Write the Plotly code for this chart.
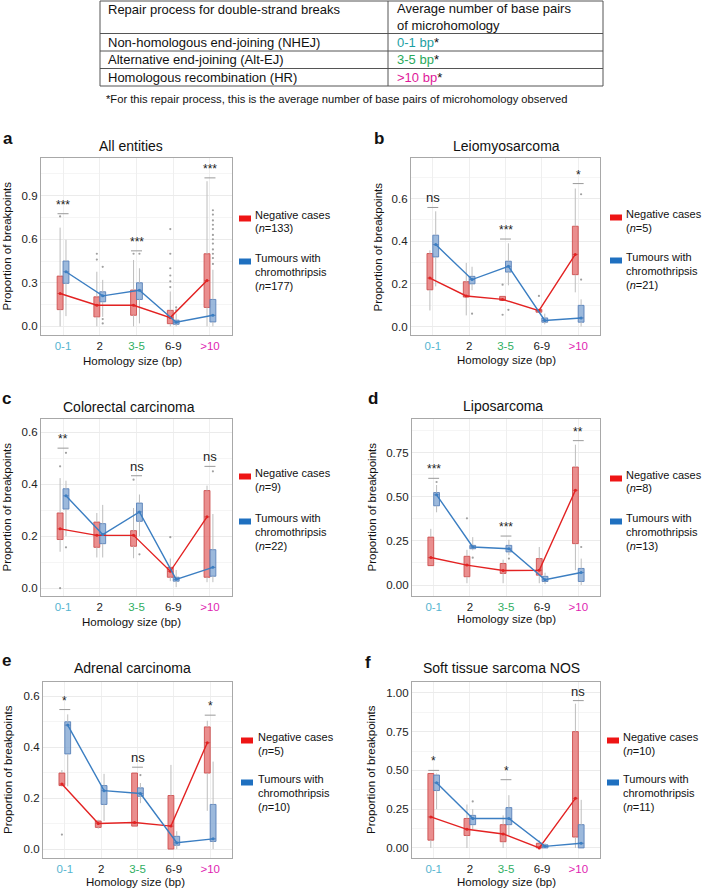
import plotly.graph_objects as go

W, H = 703, 889

# ---------------- data ----------------
BINS = ["0-1", "2", "3-5", "6-9", "&gt;10"]
BIN_COLORS = ["#55B4D0", "#1a1a1a", "#2FAE62", "#1a1a1a", "#E01FB2"]

TABLE_HEAD = ["Repair process for double-strand breaks", "Average number of base pairs<br>of microhomology"]
TABLE_PROC = ["Non-homologous end-joining (NHEJ)", "Alternative end-joining (Alt-EJ)", "Homologous recombination (HR)"]
TABLE_BP = ["0-1 bp", "3-5 bp", "&gt;10 bp"]
TABLE_BP_COLORS = ["#1C9FA3", "#2AA85A", "#E0189A"]
FOOTNOTE = "*For this repair process, this is the average number of base pairs of microhomology observed"

# (lower whisker, q1, median, q3, upper whisker) per homology bin
A_NEG = [(0.00, 0.115, 0.226, 0.346, 0.68), (0.00, 0.065, 0.145, 0.203, 0.376),
         (0.00, 0.076, 0.145, 0.25, 0.457), (0.00, 0.018, 0.060, 0.11, 0.24),
         (0.00, 0.13, 0.315, 0.50, 1.00)]
A_TUM = [(0.07, 0.296, 0.376, 0.45, 0.596), (0.065, 0.169, 0.21, 0.238, 0.32),
         (0.02, 0.185, 0.248, 0.30, 0.40), (0.00, 0.014, 0.028, 0.042, 0.088),
         (0.00, 0.03, 0.076, 0.185, 0.39)]
A_NEG_OUT = [[0.757], [0.50, 0.46], [0.50], [0.67, 0.50, 0.40, 0.35, 0.31, 0.27], []]
A_TUM_OUT = [[], [0.41, 0.05, 0.02], [0.50], [0.13, 0.11],
             [0.80, 0.77, 0.73, 0.70, 0.67, 0.63, 0.60, 0.57, 0.53, 0.50, 0.47, 0.43]]
A_SIG = ["***", "", "***", "", "***"]
A_SIG_Y = [0.776, None, 0.52, None, 1.023]
A_N = (133, 177)

B_NEG = [(0.075, 0.172, 0.227, 0.342, 0.357), (0.052, 0.138, 0.143, 0.21, 0.298),
         (0.122, 0.122, 0.127, 0.141, 0.141), (0.067, 0.067, 0.074, 0.08, 0.08),
         (0.16, 0.243, 0.338, 0.47, 0.647)]
B_TUM = [(0.188, 0.326, 0.384, 0.428, 0.54), (0.17, 0.20, 0.22, 0.235, 0.28),
         (0.193, 0.255, 0.282, 0.306, 0.39), (0.01, 0.02, 0.028, 0.04, 0.06),
         (0.00, 0.02, 0.04, 0.099, 0.127)]
B_NEG_OUT = [[], [], [0.196, 0.055], [0.143], []]
B_TUM_OUT = [[], [0.06], [0.078], [], [0.62, 0.22]]
B_SIG = ["ns", "", "***", "", "*"]
B_SIG_Y = [0.558, None, 0.41, None, 0.67]
B_N = (5, 21)

C_NEG = [(0.14, 0.187, 0.228, 0.289, 0.423), (0.118, 0.157, 0.203, 0.254, 0.289),
         (0.115, 0.161, 0.203, 0.221, 0.308), (0.027, 0.042, 0.065, 0.08, 0.114),
         (0.023, 0.042, 0.274, 0.375, 0.394)]
C_TUM = [(0.20, 0.304, 0.355, 0.382, 0.413), (0.118, 0.171, 0.206, 0.248, 0.32),
         (0.20, 0.257, 0.293, 0.327, 0.36), (0.004, 0.027, 0.034, 0.042, 0.07),
         (0.023, 0.046, 0.08, 0.148, 0.285)]
C_NEG_OUT = [[0.468, 0.0], [], [0.417], [0.196], []]
C_TUM_OUT = [[0.52, 0.157], [], [0.13], [], [0.449]]
C_SIG = ["**", "", "ns", "", "ns"]
C_SIG_Y = [0.538, None, 0.432, None, 0.468]
C_N = (9, 22)

D_NEG = [(0.11, 0.11, 0.156, 0.272, 0.319), (0.01, 0.047, 0.113, 0.163, 0.20),
         (0.01, 0.066, 0.082, 0.122, 0.144), (0.01, 0.056, 0.084, 0.15, 0.216),
         (0.084, 0.235, 0.538, 0.67, 0.797)]
D_TUM = [(0.413, 0.45, 0.512, 0.525, 0.568), (0.197, 0.206, 0.216, 0.225, 0.272),
         (0.169, 0.188, 0.206, 0.225, 0.257), (0.005, 0.02, 0.03, 0.049, 0.07),
         (0.00, 0.02, 0.071, 0.094, 0.15)]
D_NEG_OUT = [[], [0.379], [], [], []]
D_TUM_OUT = [[0.585], [0.155], [0.15], [], [0.216]]
D_SIG = ["***", "", "***", "", "**"]
D_SIG_Y = [0.606, None, 0.278, None, 0.82]
D_N = (8, 13)

E_NEG = [(0.245, 0.249, 0.255, 0.298, 0.31), (0.08, 0.085, 0.10, 0.11, 0.115),
         (0.09, 0.09, 0.104, 0.298, 0.298), (0.00, 0.00, 0.09, 0.21, 0.33),
         (0.15, 0.298, 0.417, 0.479, 0.503)]
E_TUM = [(0.246, 0.373, 0.486, 0.499, 0.528), (0.11, 0.175, 0.229, 0.249, 0.295),
         (0.18, 0.207, 0.218, 0.24, 0.259), (0.00, 0.015, 0.025, 0.05, 0.07),
         (0.00, 0.03, 0.04, 0.175, 0.343)]
E_NEG_OUT = [[0.057], [], [], [], []]
E_TUM_OUT = [[], [], [0.29], [], []]
E_SIG = ["*", "", "ns", "", "*"]
E_SIG_Y = [0.547, None, 0.321, None, 0.525]
E_N = (5, 10)

F_NEG = [(0.00, 0.05, 0.20, 0.48, 0.48), (0.00, 0.08, 0.12, 0.19, 0.28),
         (0.00, 0.04, 0.09, 0.15, 0.21), (0.00, 0.00, 0.00, 0.03, 0.05),
         (0.00, 0.07, 0.32, 0.75, 0.93)]
F_TUM = [(0.25, 0.37, 0.42, 0.47, 0.48), (0.12, 0.15, 0.19, 0.21, 0.25),
         (0.08, 0.15, 0.19, 0.26, 0.34), (0.00, 0.00, 0.01, 0.02, 0.03),
         (0.00, 0.00, 0.03, 0.15, 0.31)]
F_NEG_OUT = [[], [], [], [], []]
F_TUM_OUT = [[], [0.30], [], [], []]
F_SIG = ["*", "", "*", "", "ns"]
F_SIG_Y = [0.50, None, 0.44, None, 0.95]
F_N = (10, 11)

PANELS = [
    dict(letter="a", title="All entities", neg=A_NEG, tum=A_TUM, neg_out=A_NEG_OUT, tum_out=A_TUM_OUT, sig=A_SIG, sig_y=A_SIG_Y, n=A_N),
    dict(letter="b", title="Leiomyosarcoma", neg=B_NEG, tum=B_TUM, neg_out=B_NEG_OUT, tum_out=B_TUM_OUT, sig=B_SIG, sig_y=B_SIG_Y, n=B_N),
    dict(letter="c", title="Colorectal carcinoma", neg=C_NEG, tum=C_TUM, neg_out=C_NEG_OUT, tum_out=C_TUM_OUT, sig=C_SIG, sig_y=C_SIG_Y, n=C_N),
    dict(letter="d", title="Liposarcoma", neg=D_NEG, tum=D_TUM, neg_out=D_NEG_OUT, tum_out=D_TUM_OUT, sig=D_SIG, sig_y=D_SIG_Y, n=D_N),
    dict(letter="e", title="Adrenal carcinoma", neg=E_NEG, tum=E_TUM, neg_out=E_NEG_OUT, tum_out=E_TUM_OUT, sig=E_SIG, sig_y=E_SIG_Y, n=E_N),
    dict(letter="f", title="Soft tissue sarcoma NOS", neg=F_NEG, tum=F_TUM, neg_out=F_NEG_OUT, tum_out=F_TUM_OUT, sig=F_SIG, sig_y=F_SIG_Y, n=F_N),
]

# ---------------- layout constants (pixels) ----------------
PLOT_BOX = [(41, 232, 158, 335), (411, 600, 158, 335), (41, 232, 419, 596),
            (412, 600, 419, 596), (43, 232, 682, 858), (412, 600, 682, 858)]
Y_RANGE = [(-0.06, 1.16), (-0.04, 0.79), (-0.03, 0.65), (-0.0625, 0.943), (-0.035, 0.655), (-0.065, 1.07)]
Y_DTICK = [0.3, 0.2, 0.2, 0.25, 0.2, 0.25]
Y_FMT = [".1f", ".1f", ".1f", ".2f", ".1f", ".2f"]
LETTER_POS = [(1, 138), (372, 138), (0, 398), (366, 398), (0, 660), (363, 662)]
TITLE_POS = [(131, 146), (507, 146), (129, 407), (503, 406), (132, 668), (501, 668)]
YTITLE_X = [6, 377, 6, 371, 8, 371]
XTITLE_POS = [(132, 361), (506, 360), (131, 622), (506, 619), (135, 882), (506, 882)]
LEG_X = [(239, 255), (610, 626), (239, 255), (610, 626), (241, 258), (607, 623)]
LEG_Y = [(215, 258), (214, 257), (473, 518), (475, 518), (737, 779), (737, 779)]

NEG_LINE = "#E32222"
TUM_LINE = "#3B7EC2"
NEG_FILL = "rgba(228,110,110,0.78)"
TUM_FILL = "rgba(128,165,210,0.78)"
NEG_EDGE = "rgba(205,80,80,0.9)"
TUM_EDGE = "rgba(90,130,185,0.9)"
WHISK = "#BDBDBD"
FONT = "Liberation Sans, Arial, sans-serif"
DODGE = 0.08
BOXW = 0.16


def px_x(p):
    return p / W


def px_y(p):
    return 1 - p / H


fig = go.Figure()
shapes = []
annotations = []

for i, P in enumerate(PANELS):
    sfx = "" if i == 0 else str(i + 1)
    xr, yr = "x" + sfx, "y" + sfx
    for grp, stats, outs, edge, fill, lcol, off in [
        ("neg", P["neg"], P["neg_out"], NEG_EDGE, NEG_FILL, NEG_LINE, -DODGE),
        ("tum", P["tum"], P["tum_out"], TUM_EDGE, TUM_FILL, TUM_LINE, DODGE),
    ]:
        pos = [k + off for k in range(len(BINS))]
        wx, wy = [], []
        for p, s in zip(pos, stats):
            wx += [p, p, None, p, p, None]
            wy += [s[3], s[4], None, s[0], s[1], None]
        fig.add_trace(go.Scatter(x=wx, y=wy, mode="lines", line=dict(color=WHISK, width=1),
                                 xaxis=xr, yaxis=yr, hoverinfo="skip", showlegend=False))
        fig.add_trace(go.Box(x=pos, q1=[s[1] for s in stats], median=[s[2] for s in stats],
                             q3=[s[3] for s in stats], lowerfence=[s[1] for s in stats],
                             upperfence=[s[3] for s in stats], width=BOXW, whiskerwidth=0,
                             fillcolor=fill, line=dict(color=edge, width=1), boxpoints=False,
                             xaxis=xr, yaxis=yr, hoverinfo="skip", showlegend=False))
        ox, oy = [], []
        for p, o in zip(pos, outs):
            ox += [p] * len(o)
            oy += o
        fig.add_trace(go.Scatter(x=ox, y=oy, mode="markers", marker=dict(color="#A0A0A0", size=2.2),
                                 xaxis=xr, yaxis=yr, hoverinfo="skip", showlegend=False))
    for grp, stats, lcol, off in [("neg", P["neg"], NEG_LINE, -DODGE), ("tum", P["tum"], TUM_LINE, DODGE)]:
        pos = [k + off for k in range(len(BINS))]
        fig.add_trace(go.Scatter(x=pos, y=[s[2] for s in stats], mode="lines+markers",
                                 line=dict(color=lcol, width=1.4), marker=dict(color=lcol, size=3),
                                 xaxis=xr, yaxis=yr, hoverinfo="skip", showlegend=False))
    # significance
    for k, (lab, sy) in enumerate(zip(P["sig"], P["sig_y"])):
        if not lab:
            continue
        shapes.append(dict(type="line", xref=xr, yref=yr, x0=k - 0.15, x1=k + 0.15, y0=sy, y1=sy,
                           line=dict(color="#9A9A9A", width=1)))
        annotations.append(dict(xref=xr, yref=yr, x=k, y=sy, text=lab, showarrow=False,
                                yanchor="bottom", xanchor="center",
                                font=dict(size=12 if lab != "ns" else 13, color="#222", family=FONT)))
    # axes
    l, r, t, b = PLOT_BOX[i]
    ticktext = ['<span style="color:%s">%s</span>' % (c, lab) for c, lab in zip(BIN_COLORS, BINS)]
    fig.layout["xaxis" + sfx] = dict(
        domain=[px_x(l), px_x(r)], anchor=yr, range=[-0.6, 4.6], tickvals=list(range(len(BINS))),
        ticktext=ticktext, showgrid=True, gridcolor="#EFEFEF", gridwidth=1, zeroline=False,
        showline=True, mirror=True, linecolor="#A8A8A8", linewidth=1.2, ticks="",
        tickfont=dict(size=11.5, family=FONT), fixedrange=True)
    y0, y1 = Y_RANGE[i]
    fig.layout["yaxis" + sfx] = dict(
        domain=[px_y(b), px_y(t)], anchor=xr, range=[y0, y1], tick0=0, dtick=Y_DTICK[i],
        tickformat=Y_FMT[i], showgrid=True, gridcolor="#EBEBEB", gridwidth=1, zeroline=False,
        showline=True, mirror=True, linecolor="#A8A8A8", linewidth=1.2, ticks="",
        tickfont=dict(size=11.5, color="#222", family=FONT),
        minor=dict(dtick=Y_DTICK[i] / 2, tick0=0, showgrid=True, gridcolor="#F5F5F5"),
        fixedrange=True)
    # titles
    lx, ly = LETTER_POS[i]
    annotations.append(dict(xref="paper", yref="paper", x=px_x(lx), y=px_y(ly), text="<b>%s</b>" % P["letter"],
                            showarrow=False, xanchor="left", yanchor="middle",
                            font=dict(size=17, color="#111", family=FONT)))
    tx, ty = TITLE_POS[i]
    annotations.append(dict(xref="paper", yref="paper", x=px_x(tx), y=px_y(ty), text=P["title"],
                            showarrow=False, xanchor="center", yanchor="middle",
                            font=dict(size=14, color="#111", family=FONT)))
    annotations.append(dict(xref="paper", yref="paper", x=px_x(YTITLE_X[i]), y=px_y((t + b) / 2),
                            text="Proportion of breakpoints", textangle=-90, showarrow=False,
                            xanchor="center", yanchor="middle",
                            font=dict(size=11.5, color="#111", family=FONT)))
    xx, xy = XTITLE_POS[i]
    annotations.append(dict(xref="paper", yref="paper", x=px_x(xx), y=px_y(xy), text="Homology size (bp)",
                            showarrow=False, xanchor="center", yanchor="middle",
                            font=dict(size=11.5, color="#111", family=FONT)))
    # legend
    rx, txx = LEG_X[i]
    ny, ty2 = LEG_Y[i]
    for col, yy in [("#EE1515", ny + 3.5), ("#1F70C0", ty2 + 3.5)]:
        shapes.append(dict(type="rect", xref="paper", yref="paper", x0=px_x(rx), x1=px_x(rx + 12),
                           y0=px_y(yy + 3), y1=px_y(yy - 3), fillcolor=col, line=dict(width=0)))
    leg_lines = [("Negative cases", ny), ("(<i>n</i>=%d)" % P["n"][0], ny + 13.5),
                 ("Tumours with", ty2), ("chromothripsis", ty2 + 13.5), ("(<i>n</i>=%d)" % P["n"][1], ty2 + 27.5)]
    for txt, yy in leg_lines:
        annotations.append(dict(xref="paper", yref="paper", x=px_x(txx - 1), y=px_y(yy), text=txt,
                                showarrow=False, xanchor="left", yanchor="middle", borderpad=0,
                                font=dict(size=11, color="#111", family=FONT)))

# ---------------- table ----------------
TL, TR, TC = 100, 603, 388
T_ROWS = [1, 33.5, 51, 68.5, 86]
for yy in T_ROWS:
    shapes.append(dict(type="line", xref="paper", yref="paper", x0=px_x(TL), x1=px_x(TR),
                       y0=px_y(yy), y1=px_y(yy), line=dict(color="#555", width=1)))
for xx in [TL, TC, TR]:
    shapes.append(dict(type="line", xref="paper", yref="paper", x0=px_x(xx), x1=px_x(xx),
                       y0=px_y(T_ROWS[0]), y1=px_y(T_ROWS[-1]), line=dict(color="#555", width=1)))
annotations.append(dict(xref="paper", yref="paper", x=px_x(TL + 6), y=px_y(9.5), text=TABLE_HEAD[0],
                        showarrow=False, xanchor="left", yanchor="middle",
                        font=dict(size=13, color="#111", family=FONT)))
annotations.append(dict(xref="paper", yref="paper", x=px_x(TC + 7), y=px_y(17.5), text=TABLE_HEAD[1],
                        showarrow=False, xanchor="left", yanchor="middle", align="left",
                        font=dict(size=13, color="#111", family=FONT)))
for j, (proc, bp, col) in enumerate(zip(TABLE_PROC, TABLE_BP, TABLE_BP_COLORS)):
    yy = (T_ROWS[j + 1] + T_ROWS[j + 2]) / 2
    annotations.append(dict(xref="paper", yref="paper", x=px_x(TL + 6), y=px_y(yy), text=proc,
                            showarrow=False, xanchor="left", yanchor="middle",
                            font=dict(size=13, color="#111", family=FONT)))
    annotations.append(dict(xref="paper", yref="paper", x=px_x(TC + 7), y=px_y(yy),
                            text='<span style="color:%s">%s</span>*' % (col, bp),
                            showarrow=False, xanchor="left", yanchor="middle",
                            font=dict(size=13, color="#111", family=FONT)))
annotations.append(dict(xref="paper", yref="paper", x=px_x(TL + 4), y=px_y(99.5), text=FOOTNOTE,
                        showarrow=False, xanchor="left", yanchor="middle",
                        font=dict(size=11.2, color="#111", family=FONT)))

fig.update_layout(width=W, height=H, margin=dict(l=0, r=0, t=0, b=0), paper_bgcolor="white",
                  plot_bgcolor="white", showlegend=False, shapes=shapes, annotations=annotations,
                  font=dict(family=FONT))
fig.write_html("out.html", config={"displayModeBar": False},
               post_script="document.body.style.margin='0px';document.body.style.overflow='hidden';")
